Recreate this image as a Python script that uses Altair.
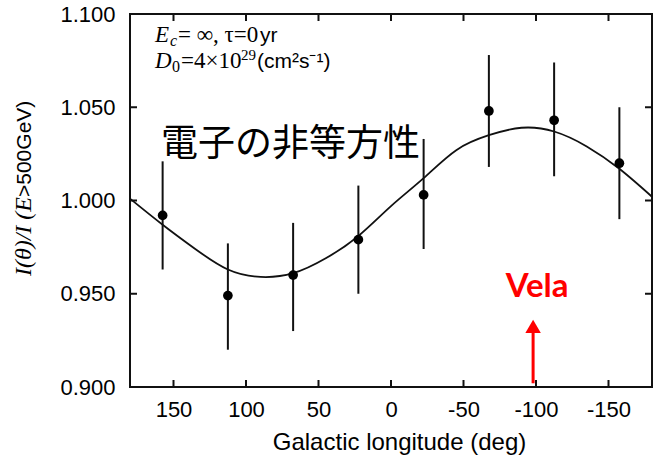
import altair as alt
import pandas as pd

# Measured anisotropy per 45-degree longitude bin
lon = [157.5, 112.5, 67.5, 22.5, -22.5, -67.5, -112.5, -157.5]
ratio = [0.992, 0.949, 0.960, 0.979, 1.003, 1.048, 1.043, 1.020]
ratio_lo = [0.963, 0.920, 0.930, 0.950, 0.974, 1.018, 1.013, 0.990]
ratio_hi = [1.021, 0.977, 0.988, 1.008, 1.033, 1.078, 1.074, 1.050]

# Model curve
model_lon = [180, 157.5, 135, 112.5, 90, 67.5, 45, 22.5, 0,
             -22.5, -45, -67.5, -90, -112.5, -135, -157.5, -180]
model_ratio = [1.001, 0.987, 0.974, 0.963, 0.959, 0.961, 0.969, 0.981, 0.997,
               1.012, 1.027, 1.035, 1.039, 1.037, 1.029, 1.017, 1.002]

x_ticks = [150, 100, 50, 0, -50, -100, -150]
y_ticks = [0.900, 0.950, 1.000, 1.050, 1.100]

vela_lon = [-98]
vela_shaft = [0.902, 0.930]
vela_head = [0.9325]

W, H = 522, 373
SANS = "Liberation Sans"
SERIF = "Liberation Serif"
INK = "#111111"
RED = "#ff0000"

pts = pd.DataFrame({"lon": lon, "ratio": ratio, "lo": ratio_lo, "hi": ratio_hi})
model = pd.DataFrame({"lon": model_lon, "ratio": model_ratio})
xt = pd.DataFrame({"t": x_ticks})
yt = pd.DataFrame({"t": y_ticks})

x_scale = alt.Scale(domain=[180, -180], nice=False)
y_scale = alt.Scale(domain=[0.9, 1.1], nice=False, zero=False)

x_axis = alt.Axis(values=x_ticks, labelExpr="'' + datum.value", ticks=False,
                  domain=False, grid=False, labelFont=SANS, labelFontSize=22,
                  labelColor="#000", labelPadding=12,
                  title="Galactic longitude (deg)", titleFont=SANS,
                  titleFontSize=24, titleFontWeight="normal", titleColor="#000",
                  titlePadding=10, titleX=269)
y_axis = alt.Axis(values=y_ticks, format=".3f", ticks=False, domain=False,
                  grid=False, labelFont=SANS, labelFontSize=22,
                  labelColor="#000", labelPadding=15, title="")

X = alt.X("lon:Q", scale=x_scale, axis=x_axis)
Y = alt.Y("ratio:Q", scale=y_scale, axis=y_axis)

curve = alt.Chart(model).mark_line(color=INK, strokeWidth=1.8,
                                   interpolate="natural").encode(x=X, y=Y)

bars = alt.Chart(pts).mark_rule(color=INK, strokeWidth=2).encode(
    x=X, y=alt.Y("lo:Q", scale=y_scale, axis=y_axis), y2="hi:Q")

dots = alt.Chart(pts).mark_circle(color="#000", size=95, opacity=1).encode(x=X, y=Y)

# inward ticks on all four sides
TL = 7
tick_layers = [
    alt.Chart(xt).mark_rule(color=INK, strokeWidth=2).encode(
        x=alt.X("t:Q", scale=x_scale, axis=x_axis), y=alt.value(H), y2=alt.value(H - TL)),
    alt.Chart(xt).mark_rule(color=INK, strokeWidth=2).encode(
        x=alt.X("t:Q", scale=x_scale, axis=x_axis), y=alt.value(0), y2=alt.value(TL)),
    alt.Chart(yt).mark_rule(color=INK, strokeWidth=2).encode(
        y=alt.Y("t:Q", scale=y_scale, axis=y_axis), x=alt.value(0), x2=alt.value(TL)),
    alt.Chart(yt).mark_rule(color=INK, strokeWidth=2).encode(
        y=alt.Y("t:Q", scale=y_scale, axis=y_axis), x=alt.value(W), x2=alt.value(W - TL)),
]


def label(text, x, y, size, font, style="normal", weight="normal",
          color="#000", align="left", angle=0):
    return alt.Chart(pd.DataFrame({"t": [text]})).mark_text(
        font=font, fontSize=size, fontStyle=style, fontWeight=weight,
        color=color, align=align, baseline="alphabetic", angle=angle
    ).encode(x=alt.value(x), y=alt.value(y), text="t:N")


notes = [
    # E_c = inf, tau = 0yr
    label("E", 25, 28, 23, SERIF, style="italic"),
    label("c", 40, 32, 16, SERIF, style="italic"),
    label("= ∞, τ=0", 48, 28, 23, SERIF),
    label("yr", 130, 28, 21, SANS),
    # D_0 = 4x10^29 (cm^2 s^-1)
    label("D", 25, 54, 23, SERIF, style="italic"),
    label("0", 42, 58, 16, SERIF),
    label("=4×10", 51, 54, 23, SERIF),
    label("29", 111, 46, 15, SERIF),
    label("(cm²s⁻¹)", 127, 54, 21, SANS),
    # heading
    label("電子の非等方性", 31, 142, 37, "Noto Sans CJK JP"),
    # y-axis title in two fonts
    label("I(θ)/I (E", -99, 183, 24, SERIF, style="italic", align="right", angle=270),
    label(">500GeV)", -99, 183, 21, SANS, align="left", angle=270),
]

shaft = alt.Chart(pd.DataFrame({"lon": vela_lon, "a": [vela_shaft[0]],
                                "b": [vela_shaft[1]]})).mark_rule(
    color=RED, strokeWidth=3).encode(
    x=X, y=alt.Y("a:Q", scale=y_scale, axis=y_axis), y2="b:Q")
head = alt.Chart(pd.DataFrame({"lon": vela_lon, "v": vela_head})).mark_point(
    shape="triangle-up", filled=True, color=RED, size=240, opacity=1).encode(
    x=X, y=alt.Y("v:Q", scale=y_scale, axis=y_axis))
vela_txt = alt.Chart(pd.DataFrame({"lon": vela_lon, "t": ["Vela"]})).mark_text(
    font="Lato", fontSize=33, fontWeight="bold", color=RED, align="center",
    baseline="alphabetic", dx=4).encode(x=X, y=alt.value(283), text="t:N")

chart = alt.layer(curve, bars, dots, *tick_layers, *notes, shaft, head, vela_txt).properties(
    width=W, height=H,
    autosize=alt.AutoSizeParams(type="none"),
    padding={"left": 130, "top": 14, "right": 1, "bottom": 68},
    background="white",
).configure_view(stroke=INK, strokeWidth=2)

chart.save("out.html", embed_options={"renderer": "svg", "actions": False})
